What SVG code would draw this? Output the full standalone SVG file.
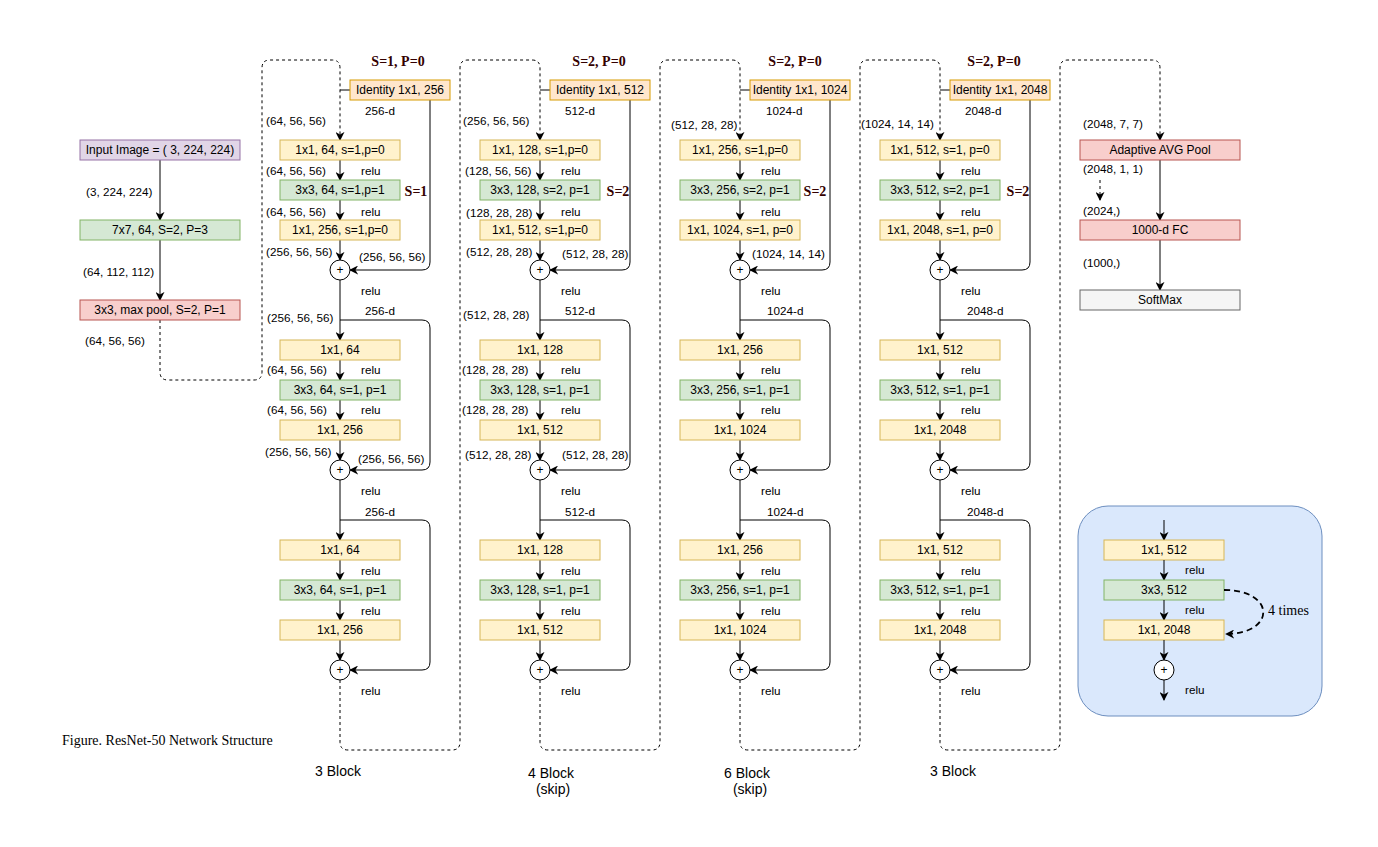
<svg xmlns="http://www.w3.org/2000/svg" width="1378" height="847" viewBox="0 0 1378 847">
<style>
text{font-family:"Liberation Sans",Arial,sans-serif;font-size:12px;fill:#000}
.c{text-anchor:middle}
.lb{font-size:11.7px}
.sp{font-family:"Liberation Serif","Times New Roman",serif;font-weight:bold;font-size:14px;fill:#330000;text-anchor:middle}
.sr{font-family:"Liberation Serif","Times New Roman",serif;font-size:14px}
.bk{font-size:14px;text-anchor:middle}
.y{fill:#fff2cc;stroke:#d6b656}
.g{fill:#d5e8d4;stroke:#82b366}
.r{fill:#f8cecc;stroke:#b85450}
.p{fill:#e1d5e7;stroke:#9673a6}
.o{fill:#ffe6cc;stroke:#d79b00}
.gr{fill:#f5f5f5;stroke:#666666}
.ln{fill:none;stroke:#000;stroke-width:1}
.ar{fill:none;stroke:#000;stroke-width:1;marker-end:url(#a)}
.da{fill:none;stroke:#000;stroke-width:1;stroke-dasharray:3,3;marker-end:url(#a)}
.pl{fill:#fff;stroke:#000}
</style>
<defs>
<marker id="a" viewBox="0 0 10 10" refX="9" refY="5" markerWidth="9" markerHeight="9" markerUnits="userSpaceOnUse" orient="auto">
<path d="M0,0 L10,5 L0,10 L3,5 Z" fill="#000"/>
</marker>
</defs>
<rect width="1378" height="847" fill="#fff"/>

<!-- connectors -->
<g id="connectors">
<line class="ar" x1="160" y1="160" x2="160" y2="220"/>
<line class="ar" x1="160" y1="240" x2="160" y2="300"/>
<path class="da" d="M160,320 V372 Q160,380 168,380 H254 Q262,380 262,372 V68 Q262,60 270,60 H332 Q340,60 340,68 V140"/>
<path class="da" d="M340,680 V742 Q340,750 348,750 H452 Q460,750 460,742 V68 Q460,60 468,60 H532 Q540,60 540,68 V140"/>
<path class="da" d="M540,680 V742 Q540,750 548,750 H652 Q660,750 660,742 V68 Q660,60 668,60 H732 Q740,60 740,68 V140"/>
<path class="da" d="M740,680 V742 Q740,750 748,750 H852 Q860,750 860,742 V68 Q860,60 868,60 H932 Q940,60 940,68 V140"/>
<path class="da" d="M940,680 V742 Q940,750 948,750 H1052 Q1060,750 1060,742 V68 Q1060,60 1068,60 H1152 Q1160,60 1160,68 V140"/>
<line class="ln" x1="340" y1="90" x2="350" y2="90"/>
<line class="ln" x1="540" y1="90" x2="550" y2="90"/>
<line class="ln" x1="740" y1="90" x2="750" y2="90"/>
<line class="ln" x1="940" y1="90" x2="950" y2="90"/>
<g id="col1">
<line class="ar" x1="340" y1="160" x2="340" y2="180"/><line class="ar" x1="340" y1="200" x2="340" y2="220"/><line class="ar" x1="340" y1="240" x2="340" y2="260"/>
<line class="ar" x1="340" y1="280" x2="340" y2="340"/><line class="ar" x1="340" y1="360" x2="340" y2="380"/><line class="ar" x1="340" y1="400" x2="340" y2="420"/><line class="ar" x1="340" y1="440" x2="340" y2="460"/>
<line class="ar" x1="340" y1="480" x2="340" y2="540"/><line class="ar" x1="340" y1="560" x2="340" y2="580"/><line class="ar" x1="340" y1="600" x2="340" y2="620"/><line class="ar" x1="340" y1="640" x2="340" y2="660"/>
<path class="ar" d="M430,100 V262 Q430,270 422,270 H350"/>
<path class="ar" d="M340,320 H422 Q430,320 430,328 V462 Q430,470 422,470 H350"/>
<path class="ar" d="M340,520 H422 Q430,520 430,528 V662 Q430,670 422,670 H350"/>
</g>
<g id="col2">
<line class="ar" x1="540" y1="160" x2="540" y2="180"/><line class="ar" x1="540" y1="200" x2="540" y2="220"/><line class="ar" x1="540" y1="240" x2="540" y2="260"/>
<line class="ar" x1="540" y1="280" x2="540" y2="340"/><line class="ar" x1="540" y1="360" x2="540" y2="380"/><line class="ar" x1="540" y1="400" x2="540" y2="420"/><line class="ar" x1="540" y1="440" x2="540" y2="460"/>
<line class="ar" x1="540" y1="480" x2="540" y2="540"/><line class="ar" x1="540" y1="560" x2="540" y2="580"/><line class="ar" x1="540" y1="600" x2="540" y2="620"/><line class="ar" x1="540" y1="640" x2="540" y2="660"/>
<path class="ar" d="M630,100 V262 Q630,270 622,270 H550"/>
<path class="ar" d="M540,320 H622 Q630,320 630,328 V462 Q630,470 622,470 H550"/>
<path class="ar" d="M540,520 H622 Q630,520 630,528 V662 Q630,670 622,670 H550"/>
</g>
<g id="col3">
<line class="ar" x1="740" y1="160" x2="740" y2="180"/><line class="ar" x1="740" y1="200" x2="740" y2="220"/><line class="ar" x1="740" y1="240" x2="740" y2="260"/>
<line class="ar" x1="740" y1="280" x2="740" y2="340"/><line class="ar" x1="740" y1="360" x2="740" y2="380"/><line class="ar" x1="740" y1="400" x2="740" y2="420"/><line class="ar" x1="740" y1="440" x2="740" y2="460"/>
<line class="ar" x1="740" y1="480" x2="740" y2="540"/><line class="ar" x1="740" y1="560" x2="740" y2="580"/><line class="ar" x1="740" y1="600" x2="740" y2="620"/><line class="ar" x1="740" y1="640" x2="740" y2="660"/>
<path class="ar" d="M830,100 V262 Q830,270 822,270 H750"/>
<path class="ar" d="M740,320 H822 Q830,320 830,328 V462 Q830,470 822,470 H750"/>
<path class="ar" d="M740,520 H822 Q830,520 830,528 V662 Q830,670 822,670 H750"/>
</g>
<g id="col4">
<line class="ar" x1="940" y1="160" x2="940" y2="180"/><line class="ar" x1="940" y1="200" x2="940" y2="220"/><line class="ar" x1="940" y1="240" x2="940" y2="260"/>
<line class="ar" x1="940" y1="280" x2="940" y2="340"/><line class="ar" x1="940" y1="360" x2="940" y2="380"/><line class="ar" x1="940" y1="400" x2="940" y2="420"/><line class="ar" x1="940" y1="440" x2="940" y2="460"/>
<line class="ar" x1="940" y1="480" x2="940" y2="540"/><line class="ar" x1="940" y1="560" x2="940" y2="580"/><line class="ar" x1="940" y1="600" x2="940" y2="620"/><line class="ar" x1="940" y1="640" x2="940" y2="660"/>
<path class="ar" d="M1030,100 V262 Q1030,270 1022,270 H950"/>
<path class="ar" d="M940,320 H1022 Q1030,320 1030,328 V462 Q1030,470 1022,470 H950"/>
<path class="ar" d="M940,520 H1022 Q1030,520 1030,528 V662 Q1030,670 1022,670 H950"/>
</g>
<line class="ar" x1="1160" y1="160" x2="1160" y2="220"/>
<line class="ar" x1="1160" y1="240" x2="1160" y2="290"/>
<line class="da" x1="1100" y1="180" x2="1100" y2="200"/>
</g>

<g id="input"><rect class="p" x="80" y="140" width="160" height="20"/><text class="c" x="160" y="154">Input Image = ( 3, 224, 224)</text></g>
<g id="conv1"><rect class="g" x="80" y="220" width="160" height="20"/><text class="c" x="160" y="234">7x7, 64, S=2, P=3</text></g>
<g id="maxpool"><rect class="r" x="80" y="300" width="160" height="20"/><text class="c" x="160" y="314">3x3, max pool, S=2, P=1</text></g>
<text class="lb" x="86" y="196">(3, 224, 224)</text>
<text class="lb" x="83" y="276">(64, 112, 112)</text>
<text class="lb" x="85" y="345">(64, 56, 56)</text>

<g id="s1">
<text class="sp" x="398" y="66">S=1, P=0</text>
<g id="s1-id"><rect class="o" x="350" y="80" width="100" height="20"/><text class="c" x="400" y="94">Identity 1x1, 256</text></g>
<g id="s1-b1a"><rect class="y" x="280" y="140" width="120" height="20"/><text class="c" x="340" y="154">1x1, 64, s=1,p=0</text></g>
<g id="s1-b1b"><rect class="g" x="280" y="180" width="120" height="20"/><text class="c" x="340" y="194">3x3, 64, s=1,p=1</text></g>
<g id="s1-b1c"><rect class="y" x="280" y="220" width="120" height="20"/><text class="c" x="340" y="234">1x1, 256, s=1,p=0</text></g>
<g id="s1-add1"><circle class="pl" cx="340" cy="270" r="10"/><text class="c" x="340" y="274" font-size="11">+</text></g>
<g id="s1-b2a"><rect class="y" x="280" y="340" width="120" height="20"/><text class="c" x="340" y="354">1x1, 64</text></g>
<g id="s1-b2b"><rect class="g" x="280" y="380" width="120" height="20"/><text class="c" x="340" y="394">3x3, 64, s=1, p=1</text></g>
<g id="s1-b2c"><rect class="y" x="280" y="420" width="120" height="20"/><text class="c" x="340" y="434">1x1, 256</text></g>
<g id="s1-add2"><circle class="pl" cx="340" cy="470" r="10"/><text class="c" x="340" y="474" font-size="11">+</text></g>
<g id="s1-b3a"><rect class="y" x="280" y="540" width="120" height="20"/><text class="c" x="340" y="554">1x1, 64</text></g>
<g id="s1-b3b"><rect class="g" x="280" y="580" width="120" height="20"/><text class="c" x="340" y="594">3x3, 64, s=1, p=1</text></g>
<g id="s1-b3c"><rect class="y" x="280" y="620" width="120" height="20"/><text class="c" x="340" y="634">1x1, 256</text></g>
<g id="s1-add3"><circle class="pl" cx="340" cy="670" r="10"/><text class="c" x="340" y="674" font-size="11">+</text></g>
<text class="sp" x="416" y="196">S=1</text>
<text class="lb" x="365" y="115">256-d</text>
<text class="lb" x="266" y="125">(64, 56, 56)</text>
<text class="lb" x="266" y="175">(64, 56, 56)</text><text class="lb" x="361" y="175">relu</text>
<text class="lb" x="266" y="216">(64, 56, 56)</text><text class="lb" x="361" y="216">relu</text>
<text class="lb" x="266" y="256">(256, 56, 56)</text><text class="lb" x="359" y="261">(256, 56, 56)</text>
<text class="lb" x="361" y="295">relu</text><text class="lb" x="365" y="315">256-d</text><text class="lb" x="267" y="322">(256, 56, 56)</text>
<text class="lb" x="267" y="374">(64, 56, 56)</text><text class="lb" x="361" y="374">relu</text>
<text class="lb" x="267" y="414">(64, 56, 56)</text><text class="lb" x="361" y="414">relu</text>
<text class="lb" x="265" y="456">(256, 56, 56)</text><text class="lb" x="358" y="463">(256, 56, 56)</text>
<text class="lb" x="361" y="495">relu</text><text class="lb" x="365" y="516">256-d</text>
<text class="lb" x="361" y="575">relu</text><text class="lb" x="361" y="615">relu</text><text class="lb" x="361" y="695">relu</text>
</g>

<g id="s2">
<text class="sp" x="599" y="66">S=2, P=0</text>
<g id="s2-id"><rect class="o" x="550" y="80" width="100" height="20"/><text class="c" x="600" y="94">Identity 1x1, 512</text></g>
<g id="s2-b1a"><rect class="y" x="480" y="140" width="120" height="20"/><text class="c" x="540" y="154">1x1, 128, s=1,p=0</text></g>
<g id="s2-b1b"><rect class="g" x="480" y="180" width="120" height="20"/><text class="c" x="540" y="194">3x3, 128, s=2, p=1</text></g>
<g id="s2-b1c"><rect class="y" x="480" y="220" width="120" height="20"/><text class="c" x="540" y="234">1x1, 512, s=1,p=0</text></g>
<g id="s2-add1"><circle class="pl" cx="540" cy="270" r="10"/><text class="c" x="540" y="274" font-size="11">+</text></g>
<g id="s2-b2a"><rect class="y" x="480" y="340" width="120" height="20"/><text class="c" x="540" y="354">1x1, 128</text></g>
<g id="s2-b2b"><rect class="g" x="480" y="380" width="120" height="20"/><text class="c" x="540" y="394">3x3, 128, s=1, p=1</text></g>
<g id="s2-b2c"><rect class="y" x="480" y="420" width="120" height="20"/><text class="c" x="540" y="434">1x1, 512</text></g>
<g id="s2-add2"><circle class="pl" cx="540" cy="470" r="10"/><text class="c" x="540" y="474" font-size="11">+</text></g>
<g id="s2-b3a"><rect class="y" x="480" y="540" width="120" height="20"/><text class="c" x="540" y="554">1x1, 128</text></g>
<g id="s2-b3b"><rect class="g" x="480" y="580" width="120" height="20"/><text class="c" x="540" y="594">3x3, 128, s=1, p=1</text></g>
<g id="s2-b3c"><rect class="y" x="480" y="620" width="120" height="20"/><text class="c" x="540" y="634">1x1, 512</text></g>
<g id="s2-add3"><circle class="pl" cx="540" cy="670" r="10"/><text class="c" x="540" y="674" font-size="11">+</text></g>
<text class="sp" x="618" y="196">S=2</text>
<text class="lb" x="565" y="115">512-d</text>
<text class="lb" x="463" y="125">(256, 56, 56)</text>
<text class="lb" x="465" y="175">(128, 56, 56)</text><text class="lb" x="561" y="175">relu</text>
<text class="lb" x="466" y="217">(128, 28, 28)</text><text class="lb" x="561" y="216">relu</text>
<text class="lb" x="466" y="256">(512, 28, 28)</text><text class="lb" x="562" y="258">(512, 28, 28)</text>
<text class="lb" x="561" y="295">relu</text><text class="lb" x="565" y="315">512-d</text><text class="lb" x="463" y="319">(512, 28, 28)</text>
<text class="lb" x="462" y="374">(128, 28, 28)</text><text class="lb" x="561" y="374">relu</text>
<text class="lb" x="462" y="414">(128, 28, 28)</text><text class="lb" x="561" y="414">relu</text>
<text class="lb" x="465" y="459">(512, 28, 28)</text><text class="lb" x="562" y="459">(512, 28, 28)</text>
<text class="lb" x="561" y="495">relu</text><text class="lb" x="565" y="516">512-d</text>
<text class="lb" x="561" y="575">relu</text><text class="lb" x="561" y="615">relu</text><text class="lb" x="561" y="695">relu</text>
</g>

<g id="s3">
<text class="sp" x="795" y="66">S=2, P=0</text>
<g id="s3-id"><rect class="o" x="750" y="80" width="100" height="20"/><text class="c" x="800" y="94">Identity 1x1, 1024</text></g>
<g id="s3-b1a"><rect class="y" x="680" y="140" width="120" height="20"/><text class="c" x="740" y="154">1x1, 256, s=1,p=0</text></g>
<g id="s3-b1b"><rect class="g" x="680" y="180" width="120" height="20"/><text class="c" x="740" y="194">3x3, 256, s=2, p=1</text></g>
<g id="s3-b1c"><rect class="y" x="680" y="220" width="120" height="20"/><text class="c" x="740" y="234">1x1, 1024, s=1, p=0</text></g>
<g id="s3-add1"><circle class="pl" cx="740" cy="270" r="10"/><text class="c" x="740" y="274" font-size="11">+</text></g>
<g id="s3-b2a"><rect class="y" x="680" y="340" width="120" height="20"/><text class="c" x="740" y="354">1x1, 256</text></g>
<g id="s3-b2b"><rect class="g" x="680" y="380" width="120" height="20"/><text class="c" x="740" y="394">3x3, 256, s=1, p=1</text></g>
<g id="s3-b2c"><rect class="y" x="680" y="420" width="120" height="20"/><text class="c" x="740" y="434">1x1, 1024</text></g>
<g id="s3-add2"><circle class="pl" cx="740" cy="470" r="10"/><text class="c" x="740" y="474" font-size="11">+</text></g>
<g id="s3-b3a"><rect class="y" x="680" y="540" width="120" height="20"/><text class="c" x="740" y="554">1x1, 256</text></g>
<g id="s3-b3b"><rect class="g" x="680" y="580" width="120" height="20"/><text class="c" x="740" y="594">3x3, 256, s=1, p=1</text></g>
<g id="s3-b3c"><rect class="y" x="680" y="620" width="120" height="20"/><text class="c" x="740" y="634">1x1, 1024</text></g>
<g id="s3-add3"><circle class="pl" cx="740" cy="670" r="10"/><text class="c" x="740" y="674" font-size="11">+</text></g>
<text class="sp" x="815" y="196">S=2</text>
<text class="lb" x="766" y="115">1024-d</text>
<text class="lb" x="671" y="129">(512, 28, 28)</text>
<text class="lb" x="761" y="175">relu</text><text class="lb" x="761" y="216">relu</text>
<text class="lb" x="752" y="258">(1024, 14, 14)</text>
<text class="lb" x="761" y="295">relu</text><text class="lb" x="767" y="315">1024-d</text>
<text class="lb" x="761" y="374">relu</text><text class="lb" x="761" y="414">relu</text>
<text class="lb" x="761" y="495">relu</text><text class="lb" x="767" y="516">1024-d</text>
<text class="lb" x="761" y="575">relu</text><text class="lb" x="761" y="615">relu</text><text class="lb" x="761" y="695">relu</text>
</g>

<g id="s4">
<text class="sp" x="994" y="66">S=2, P=0</text>
<g id="s4-id"><rect class="o" x="950" y="80" width="100" height="20"/><text class="c" x="1000" y="94">Identity 1x1, 2048</text></g>
<g id="s4-b1a"><rect class="y" x="880" y="140" width="120" height="20"/><text class="c" x="940" y="154">1x1, 512, s=1, p=0</text></g>
<g id="s4-b1b"><rect class="g" x="880" y="180" width="120" height="20"/><text class="c" x="940" y="194">3x3, 512, s=2, p=1</text></g>
<g id="s4-b1c"><rect class="y" x="880" y="220" width="120" height="20"/><text class="c" x="940" y="234">1x1, 2048, s=1, p=0</text></g>
<g id="s4-add1"><circle class="pl" cx="940" cy="270" r="10"/><text class="c" x="940" y="274" font-size="11">+</text></g>
<g id="s4-b2a"><rect class="y" x="880" y="340" width="120" height="20"/><text class="c" x="940" y="354">1x1, 512</text></g>
<g id="s4-b2b"><rect class="g" x="880" y="380" width="120" height="20"/><text class="c" x="940" y="394">3x3, 512, s=1, p=1</text></g>
<g id="s4-b2c"><rect class="y" x="880" y="420" width="120" height="20"/><text class="c" x="940" y="434">1x1, 2048</text></g>
<g id="s4-add2"><circle class="pl" cx="940" cy="470" r="10"/><text class="c" x="940" y="474" font-size="11">+</text></g>
<g id="s4-b3a"><rect class="y" x="880" y="540" width="120" height="20"/><text class="c" x="940" y="554">1x1, 512</text></g>
<g id="s4-b3b"><rect class="g" x="880" y="580" width="120" height="20"/><text class="c" x="940" y="594">3x3, 512, s=1, p=1</text></g>
<g id="s4-b3c"><rect class="y" x="880" y="620" width="120" height="20"/><text class="c" x="940" y="634">1x1, 2048</text></g>
<g id="s4-add3"><circle class="pl" cx="940" cy="670" r="10"/><text class="c" x="940" y="674" font-size="11">+</text></g>
<text class="sp" x="1018" y="196">S=2</text>
<text class="lb" x="965" y="115">2048-d</text>
<text class="lb" x="861" y="128">(1024, 14, 14)</text>
<text class="lb" x="961" y="175">relu</text><text class="lb" x="961" y="216">relu</text>
<text class="lb" x="961" y="295">relu</text><text class="lb" x="967" y="315">2048-d</text>
<text class="lb" x="961" y="374">relu</text><text class="lb" x="961" y="414">relu</text>
<text class="lb" x="961" y="495">relu</text><text class="lb" x="967" y="516">2048-d</text>
<text class="lb" x="961" y="575">relu</text><text class="lb" x="961" y="615">relu</text><text class="lb" x="961" y="695">relu</text>
</g>

<g id="avgpool"><rect class="r" x="1080" y="140" width="160" height="20"/><text class="c" x="1160" y="154">Adaptive AVG Pool</text></g>
<g id="fc"><rect class="r" x="1080" y="220" width="160" height="20"/><text class="c" x="1160" y="234">1000-d FC</text></g>
<g id="softmax"><rect class="gr" x="1080" y="290" width="160" height="20"/><text class="c" x="1160" y="304" fill="#333">SoftMax</text></g>
<text class="lb" x="1083" y="128">(2048, 7, 7)</text>
<text class="lb" x="1083" y="173">(2048, 1, 1)</text>
<text class="lb" x="1083" y="215">(2024,)</text>
<text class="lb" x="1083" y="267">(1000,)</text>

<g id="legend">
<rect x="1078" y="506" width="244" height="210" rx="30" fill="#dae8fc" stroke="#6c8ebf"/>
<line class="ar" x1="1164" y1="520" x2="1164" y2="540"/>
<g id="lg-a"><rect class="y" x="1104" y="540" width="120" height="20"/><text class="c" x="1164" y="554">1x1, 512</text></g>
<line class="ar" x1="1164" y1="560" x2="1164" y2="580"/>
<g id="lg-b"><rect class="g" x="1104" y="580" width="120" height="20"/><text class="c" x="1164" y="594">3x3, 512</text></g>
<line class="ar" x1="1164" y1="600" x2="1164" y2="620"/>
<g id="lg-c"><rect class="y" x="1104" y="620" width="120" height="20"/><text class="c" x="1164" y="634">1x1, 2048</text></g>
<line class="ar" x1="1164" y1="640" x2="1164" y2="660"/>
<g id="lg-add"><circle class="pl" cx="1164" cy="670" r="10"/><text class="c" x="1164" y="674" font-size="11">+</text></g>
<line class="ar" x1="1164" y1="680" x2="1164" y2="700"/>
<path d="M1224,590 C1276,590 1276,634 1226,634" fill="none" stroke="#000" stroke-width="1.8" stroke-dasharray="6,4" marker-end="url(#a)"/>
<text class="sr" x="1268" y="615">4 times</text>
<text class="lb" x="1185" y="574">relu</text>
<text class="lb" x="1185" y="614">relu</text>
<text class="lb" x="1185" y="694">relu</text>
</g>

<text class="sr" x="62" y="745">Figure. ResNet-50 Network Structure</text>
<text class="bk" x="338" y="776">3 Block</text>
<text class="bk" x="551" y="778">4 Block</text>
<text class="bk" x="553" y="794">(skip)</text>
<text class="bk" x="747" y="778">6 Block</text>
<text class="bk" x="750" y="794">(skip)</text>
<text class="bk" x="953" y="776">3 Block</text>
</svg>
